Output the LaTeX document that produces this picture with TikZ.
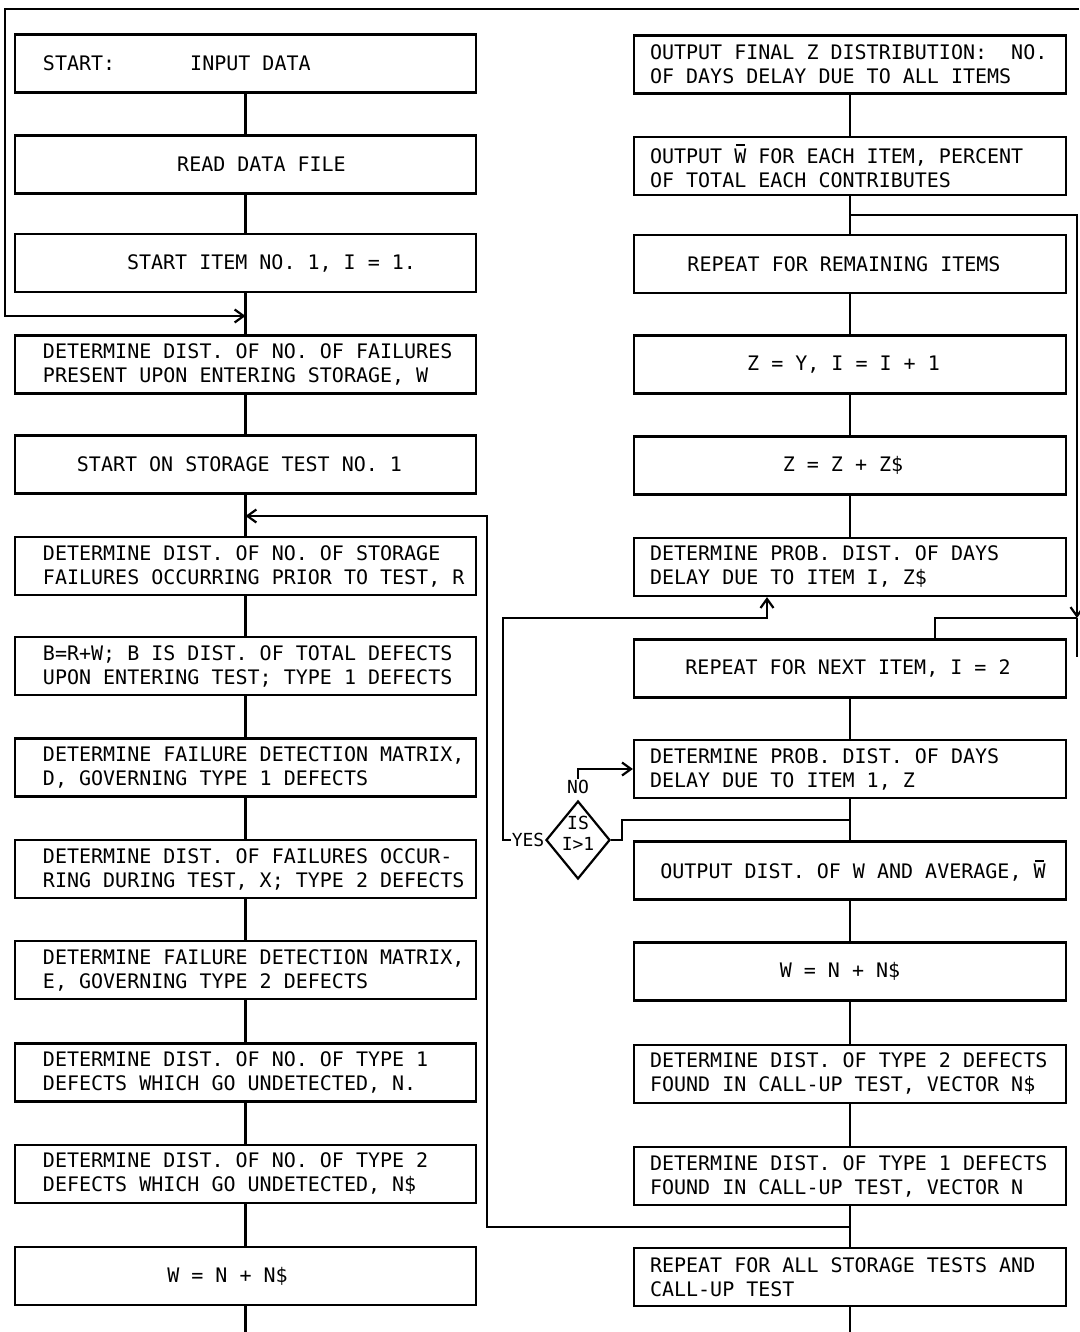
\documentclass[tikz,border=0pt]{standalone}
\usepackage{fontspec}
\newfontfamily\dmono{DejaVu Sans Mono}
\usetikzlibrary{arrows.meta,shapes.geometric}
\newcommand{\monosp}{\frenchspacing\spaceskip=0.602em\relax\xspaceskip=0.602em\relax}
\newcommand{\wbar}{\leavevmode\rlap{\hspace{1.5pt}\rule[17pt]{9pt}{1.8pt}}W}
\begin{document}
\begin{tikzpicture}[x=1pt,y=-1pt,
  every node/.style={font=\dmono\fontsize{20}{24}\selectfont\monosp},
  lbox/.style={draw,line width=2.2pt,rectangle,minimum width=461pt,minimum height=58pt,inner xsep=8pt,inner ysep=2pt,text width=445pt},
  rbox/.style={draw,line width=2.2pt,rectangle,minimum width=432pt,minimum height=58pt,inner xsep=8pt,inner ysep=2pt,text width=416pt},
  lft/.style={align=left,execute at begin node={\monosp\leftskip=20pt\relax}},
  rlft/.style={align=left,execute at begin node={\monosp\leftskip=8pt\relax}},
  ctr/.style={align=center,execute at begin node={\monosp}},
  smallfont/.style={font=\dmono\fontsize{18}{21}\selectfont\monosp},
  line/.style={line width=2.2pt},
  arr/.style={line width=2.2pt,-{Straight Barb[length=9pt,width=13pt]}},
]
\useasboundingbox (0,0) rectangle (1079,1332);

% left column
\node[lbox,lft] (l1) at (245.5,63.5) {START:\hspace{75pt}INPUT DATA};
\node[lbox,ctr] (l2) at (245.5,164.5) {\hspace*{32pt}READ DATA FILE};
\node[lbox,ctr] (l3) at (245.5,263) {\hspace*{52pt}START ITEM NO. 1, I = 1.};
\node[lbox,lft] (l4) at (245.5,364.5) {DETERMINE DIST. OF NO. OF FAILURES\\PRESENT UPON ENTERING STORAGE, W};
\node[lbox,ctr] (l5) at (245.5,464.5) {\hspace*{-12pt}START ON STORAGE TEST NO. 1};
\node[lbox,lft] (l6) at (245.5,566) {DETERMINE DIST. OF NO. OF STORAGE\\FAILURES OCCURRING PRIOR TO TEST, R};
\node[lbox,lft] (l7) at (245.5,666) {B=R+W; B IS DIST. OF TOTAL DEFECTS\\UPON ENTERING TEST; TYPE 1 DEFECTS};
\node[lbox,lft] (l8) at (245.5,767.5) {DETERMINE FAILURE DETECTION MATRIX,\\D, GOVERNING TYPE 1 DEFECTS};
\node[lbox,lft] (l9) at (245.5,869) {DETERMINE DIST. OF FAILURES OCCUR-\\RING DURING TEST, X; TYPE 2 DEFECTS};
\node[lbox,lft] (l10) at (245.5,970) {DETERMINE FAILURE DETECTION MATRIX,\\E, GOVERNING TYPE 2 DEFECTS};
\node[lbox,lft] (l11) at (245.5,1072.5) {DETERMINE DIST. OF NO. OF TYPE 1\\DEFECTS WHICH GO UNDETECTED, N.};
\node[lbox,lft] (l12) at (245.5,1174) {DETERMINE DIST. OF NO. OF TYPE 2\\DEFECTS WHICH GO UNDETECTED, N\$};
\node[lbox,ctr] (l13) at (245.5,1276) {\hspace*{-36pt}W = N + N\$};

% right column
\node[rbox,rlft] (r1) at (850,64.5) {OUTPUT FINAL Z DISTRIBUTION:\ \ NO.\\OF DAYS DELAY DUE TO ALL ITEMS};
\node[rbox,rlft] (r2) at (850,166) {OUTPUT \wbar\ FOR EACH ITEM, PERCENT\\OF TOTAL EACH CONTRIBUTES};
\node[rbox,ctr] (r3) at (850,264) {\hspace*{-12pt}REPEAT FOR REMAINING ITEMS};
\node[rbox,ctr] (r4) at (850,364.5) {\hspace*{-13pt}Z = Y, I = I + 1};
\node[rbox,ctr] (r5) at (850,465.5) {\hspace*{-14pt}Z = Z + Z\$};
\node[rbox,rlft] (r6) at (850,567) {DETERMINE PROB. DIST. OF DAYS\\DELAY DUE TO ITEM I, Z\$};
\node[rbox,ctr] (r7) at (850,668.5) {\hspace*{-4pt}REPEAT FOR NEXT ITEM, I = 2};
\node[rbox,rlft] (r8) at (850,769) {DETERMINE PROB. DIST. OF DAYS\\DELAY DUE TO ITEM 1, Z};
\node[rbox,ctr] (r9) at (850,870.5) {\hspace*{6pt}OUTPUT DIST. OF W AND AVERAGE, \wbar};
\node[rbox,ctr] (r10) at (850,971.5) {\hspace*{-20pt}W = N + N\$};
\node[rbox,rlft] (r11) at (850,1074) {DETERMINE DIST. OF TYPE 2 DEFECTS\\FOUND IN CALL-UP TEST, VECTOR N\$};
\node[rbox,rlft] (r12) at (850,1176) {DETERMINE DIST. OF TYPE 1 DEFECTS\\FOUND IN CALL-UP TEST, VECTOR N};
\node[rbox,rlft] (r13) at (850,1277) {REPEAT FOR ALL STORAGE TESTS AND\\CALL-UP TEST};

% decision
\node[draw,line width=2.2pt,diamond,minimum width=64pt,minimum height=78pt,inner sep=0pt] (dia) at (578,840) {};
\node[smallfont,align=center,inner sep=0pt] (dtext) at (578,833) {IS\\I>1};
\node[smallfont,inner sep=1pt] (no) at (578,787) {NO};
\node[smallfont,inner sep=1pt] (yes) at (528,840) {YES};

% vertical flow lines
\foreach \a/\b in {l1/l2,l2/l3,l3/l4,l4/l5,l5/l6,l6/l7,l7/l8,l8/l9,l9/l10,l10/l11,l11/l12,l12/l13,
                   r1/r2,r2/r3,r3/r4,r4/r5,r5/r6,r7/r8,r8/r9,r9/r10,r10/r11,r11/r12,r12/r13}
  \draw[line] (\a) -- (\b);
\coordinate (lend) at (245.5,1332);
\coordinate (rend) at (850,1332);
\draw[line] (l13) -- (lend);
\draw[line] (r13) -- (rend);

% top loop into left column
\coordinate (tr) at (1079,9);
\coordinate (tl) at (5,9);
\coordinate (in4) at (245.5,316);
\draw[arr] (tr) -- (tl) |- (in4);

% storage-test loop
\coordinate (jb) at (850,1227);
\coordinate (lp) at (487,516);
\coordinate (in6) at (245.5,516);
\draw[arr] (jb) -| (lp) -- (in6);

% decision connections
\coordinate (j89) at (850,820);
\draw[line] (dia.east) -- ++(11,0) |- (j89);
\draw[arr] (no.north) |- (r8.west);
\coordinate (yc) at (503,618);
\coordinate (r6in) at ([xshift=-83pt]r6.south);
\draw[arr] (yes.west) -| (yc) -| (r6in);

% right edge connections
\coordinate (r7t) at ([xshift=85pt]r7.north);
\coordinate (re) at (1077,618);
\draw[line] (r7t) |- (re);
\coordinate (j23) at (850,215);
\coordinate (rt) at (1077,215);
\coordinate (rb) at (1077,657);
\draw[arr] (j23) -- (rt) -- (re);
\draw[line] (re) -- (rb);
\end{tikzpicture}
\end{document}
